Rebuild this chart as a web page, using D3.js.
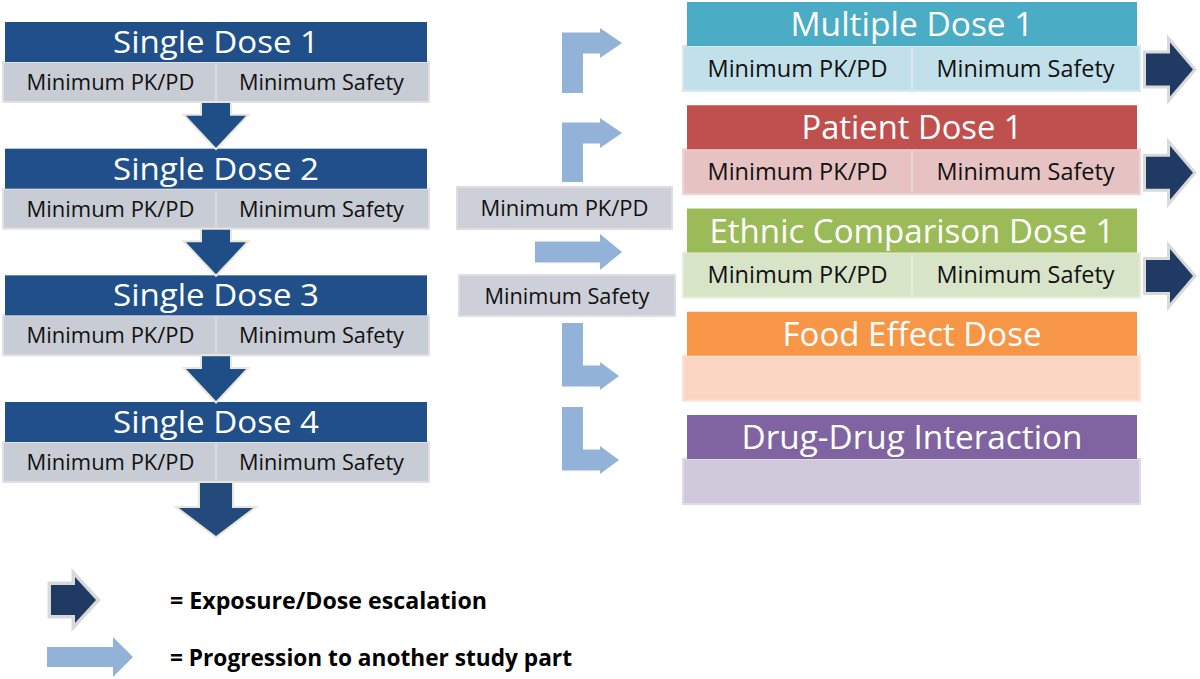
<!DOCTYPE html>
<html>
<head>
<meta charset="utf-8">
<script src="https://cdn.jsdelivr.net/npm/d3@7"></script>
<style>
  html, body { margin: 0; padding: 0; background: #ffffff; }
  svg { display: block; }
  text { font-family: "Open Sans", "Noto Sans", sans-serif; }
</style>
</head>
<body>
<svg id="chart" width="1200" height="679"></svg>
<script>
// ---------------- data ----------------
const singleDoses = ["Single Dose 1", "Single Dose 2", "Single Dose 3", "Single Dose 4"];
const measureLabels = ["Minimum PK/PD", "Minimum Safety"];
const studyParts = ["Multiple Dose 1", "Patient Dose 1", "Ethnic Comparison Dose 1", "Food Effect Dose", "Drug-Drug Interaction"];
const partHasMeasures = [true, true, true, false, false];
const partEscalates = [true, true, true, false, false];
const progressionTurns = ["up", "up", "straight", "down", "down"];
const legendLabels = ["=  Exposure/Dose escalation", "=  Progression to another study part"];

// ---------------- styles ----------------
const singleHeaderColor = "#204f89";
const measureFill = "#c8ccd5";
const measureStroke = "#dfe1e6";
const partHeaderColors = ["#4bacc6", "#c0504d", "#9bbb59", "#f79646", "#8064a2"];
const partBodyColors = ["#c2e0e9", "#e7c2c2", "#d8e4c8", "#fbd6c3", "#d0c9dc"];
const partBodyStroke = ["#d6eaf0", "#efd6d6", "#e6eedb", "#fde3d6", "#dfdae7"];
const lightArrow = "#93b2d8";
const darkArrow = "#1f3b63";
const downArrow = "#1f4d85";

const svg = d3.select("#chart");
const line = d3.line();
const poly = pts => line(pts) + "Z";

// ---------------- layout scales ----------------
const ySingle = d3.scaleLinear().domain([0, 3]).range([22, 402]);
const yPart = d3.scaleLinear().domain([0, 4]).range([2, 415]);
const leftX = d3.scaleLinear().domain([0, 1]).range([5, 427]);      // header span
const rightX = d3.scaleLinear().domain([0, 1]).range([687, 1137]);  // header span
const headerH = 40, subH = 40;
const partHeaderH = 44, partSubH = 45;

function addText(g, str, x, y, size, opts = {}) {
  const t = g.append("text")
    .attr("x", x).attr("y", y)
    .attr("text-anchor", opts.anchor || "middle")
    .attr("font-size", size)
    .attr("font-weight", opts.weight || 400)
    .attr("fill", opts.fill || "#111")
    .text(str);
  if (opts.width) {
    t.attr("textLength", opts.width).attr("lengthAdjust", "spacingAndGlyphs");
  }
  return t;
}

// ---------------- left column: single doses ----------------
const gLeft = svg.append("g");
singleDoses.forEach((name, i) => {
  const y0 = ySingle(i);
  const x0 = leftX(0), x1 = leftX(1), xm = (x0 + x1) / 2;
  gLeft.append("rect").attr("x", x0 - 2).attr("y", y0 + headerH).attr("width", x1 - x0 + 4).attr("height", subH)
    .attr("fill", measureFill).attr("stroke", measureStroke).attr("stroke-width", 2);
  gLeft.append("line").attr("x1", xm).attr("x2", xm).attr("y1", y0 + headerH + 2).attr("y2", y0 + headerH + subH - 2)
    .attr("stroke", "#d9dce2").attr("stroke-width", 2);
  gLeft.append("rect").attr("x", x0).attr("y", y0).attr("width", x1 - x0).attr("height", headerH)
    .attr("fill", singleHeaderColor);
  addText(gLeft, name, xm, y0 + headerH / 2 + 11, 31, { fill: "#fff", width: 206 });
  addText(gLeft, measureLabels[0], (x0 + xm) / 2, y0 + headerH + subH / 2 + 8, 22.5, { width: 168 });
  addText(gLeft, measureLabels[1], (xm + x1) / 2, y0 + headerH + subH / 2 + 8, 22.5, { width: 165 });
});

function downArrowPts(cx, yTop, yHead, yTip, sw, hw) {
  return [[cx - sw, yTop], [cx + sw, yTop], [cx + sw, yHead], [cx + hw, yHead], [cx, yTip], [cx - hw, yHead], [cx - sw, yHead]];
}
singleDoses.forEach((name, i) => {
  const cx = (leftX(0) + leftX(1)) / 2;
  const yTop = ySingle(i) + headerH + subH + 1;
  const last = i === singleDoses.length - 1;
  const yTip = last ? yTop + 53 : ySingle(i + 1) - 1;
  const yHead = last ? yTip - 28 : yTip - 32;
  const pts = downArrowPts(cx, yTop, yHead, yTip, last ? 16 : 14, last ? 37 : 30);
  gLeft.append("path").attr("d", poly(pts)).attr("fill", last ? "#24497b" : downArrow)
    .attr("stroke", "#e8e5dc").attr("stroke-width", 4).attr("stroke-linejoin", "miter")
    .attr("paint-order", "stroke");
});

// ---------------- middle: measure boxes + progression arrows ----------------
const gMid = svg.append("g");
const midBoxes = [{ x: 457, y: 187, w: 215, h: 42 }, { x: 459, y: 275, w: 216, h: 41 }];
midBoxes.forEach((b, i) => {
  gMid.append("rect").attr("x", b.x).attr("y", b.y).attr("width", b.w).attr("height", b.h)
    .attr("fill", "#cdd0d8").attr("stroke", "#dcdee3").attr("stroke-width", 2);
  addText(gMid, measureLabels[i], b.x + b.w / 2, b.y + b.h / 2 + 8, 22.5, { width: i === 0 ? 168 : 165 });
});

const progTipY = [43, 133, 252, 376, 460];
const progFarY = [93, 182, null, 323, 407];
function elbowPts(x0, w, yFar, tipY, hx, tx, hh) {
  const s = tipY > yFar ? 1 : -1;
  return [[x0, yFar], [x0, tipY + s * w / 2], [hx, tipY + s * w / 2], [hx, tipY + s * hh], [tx, tipY],
          [hx, tipY - s * hh], [hx, tipY - s * w / 2], [x0 + w, tipY - s * w / 2], [x0 + w, yFar]];
}
function rightArrowPts(x0, xh, xt, cy, sw, hw) {
  return [[x0, cy - sw], [xh, cy - sw], [xh, cy - hw], [xt, cy], [xh, cy + hw], [xh, cy + sw], [x0, cy + sw]];
}
progressionTurns.forEach((turn, i) => {
  let pts;
  if (turn === "straight") {
    pts = rightArrowPts(535, 600, 622, progTipY[i], 10.5, 18);
  } else {
    const tx = turn === "up" ? 622 : 619;
    const hh = turn === "up" ? 15 : 14;
    pts = elbowPts(562, 21, progFarY[i], progTipY[i], 600, tx, hh);
  }
  gMid.append("path").attr("d", poly(pts)).attr("fill", lightArrow);
});

// ---------------- right column: study parts ----------------
const gRight = svg.append("g");
studyParts.forEach((name, i) => {
  const y0 = yPart(i);
  const x0 = rightX(0), x1 = rightX(1), xm = (x0 + x1) / 2;
  gRight.append("rect").attr("x", x0 - 4).attr("y", y0 + partHeaderH).attr("width", x1 - x0 + 7).attr("height", partSubH)
    .attr("fill", partBodyColors[i]).attr("stroke", partBodyStroke[i]).attr("stroke-width", 2);
  if (partHasMeasures[i]) {
    gRight.append("line").attr("x1", xm).attr("x2", xm).attr("y1", y0 + partHeaderH + 2).attr("y2", y0 + partHeaderH + partSubH - 2)
      .attr("stroke", partBodyStroke[i]).attr("stroke-width", 2);
  }
  gRight.append("rect").attr("x", x0).attr("y", y0).attr("width", x1 - x0).attr("height", partHeaderH)
    .attr("fill", partHeaderColors[i]);
  const headerW = [243, 221, 405, 259, 341][i];
  addText(gRight, name, xm, y0 + partHeaderH / 2 + 12, 33, { fill: "#fff", width: headerW });
  if (partHasMeasures[i]) {
    const ty = y0 + partHeaderH + partSubH / 2 + 8;
    addText(gRight, measureLabels[0], (x0 + xm) / 2 - 2, ty, 23.5, { width: 180 });
    addText(gRight, measureLabels[1], (xm + x1) / 2 + 1, ty, 23.5, { width: 178 });
  }
  if (partEscalates[i]) {
    const cy = y0 + partHeaderH + partSubH / 2 + 1;
    const pts = rightArrowPts(1146, 1170, 1193, cy, 16, 27);
    gRight.append("path").attr("d", poly(pts)).attr("fill", darkArrow)
      .attr("stroke", "#d9d9d9").attr("stroke-width", 6).attr("stroke-linejoin", "miter")
      .attr("paint-order", "stroke");
  }
});

// ---------------- legend ----------------
const gLeg = svg.append("g");
gLeg.append("path").attr("d", poly(rightArrowPts(51, 75, 96, 600, 15, 23))).attr("fill", darkArrow)
  .attr("stroke", "#d9d9d9").attr("stroke-width", 7).attr("stroke-linejoin", "miter").attr("paint-order", "stroke");
gLeg.append("path").attr("d", poly(rightArrowPts(47, 113, 133, 657, 10, 20))).attr("fill", lightArrow);
addText(gLeg, legendLabels[0], 170, 609, 22.5, { anchor: "start", weight: 700, fill: "#000", width: 317 });
addText(gLeg, legendLabels[1], 170, 666, 22.5, { anchor: "start", weight: 700, fill: "#000", width: 402 });
</script>
</body>
</html>
